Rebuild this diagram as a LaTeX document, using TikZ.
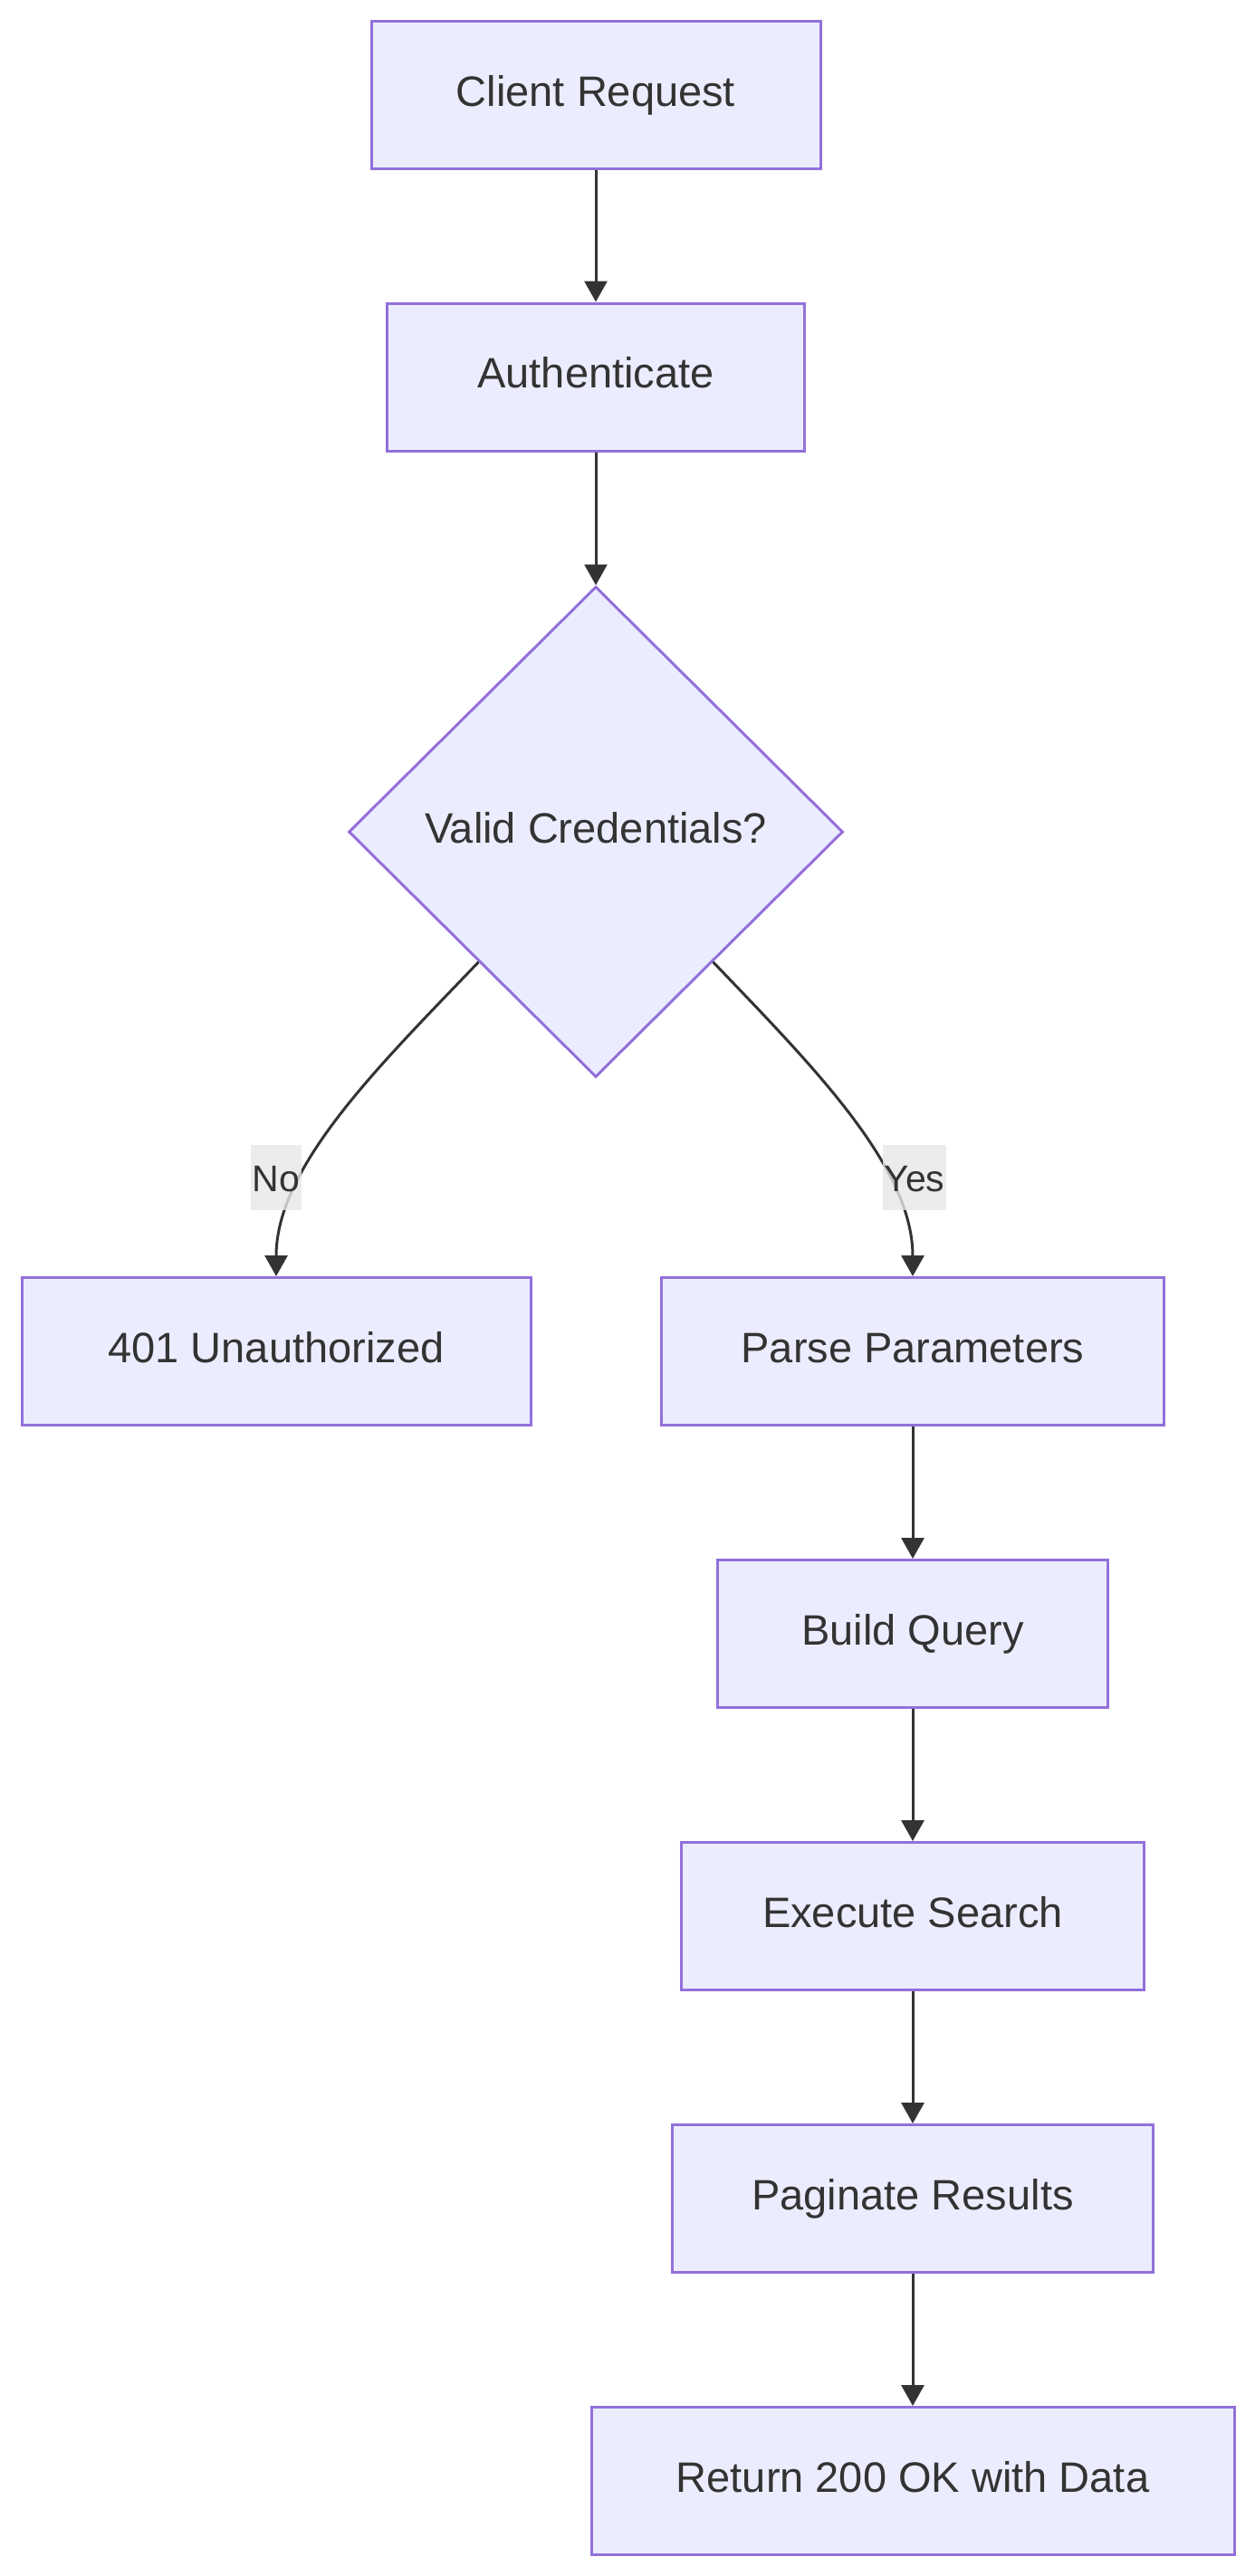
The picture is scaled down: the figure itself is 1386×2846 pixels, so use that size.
\documentclass[tikz,border=0pt]{standalone}
\usepackage{fontspec}
\setmainfont{Liberation Sans}
\usetikzlibrary{shapes.geometric,arrows.meta}
\definecolor{nodefill}{HTML}{ECECFF}
\definecolor{nodeborder}{HTML}{9370DB}
\definecolor{edgecol}{HTML}{333333}
\definecolor{txtcol}{HTML}{333333}
\definecolor{lblfill}{HTML}{E8E8E8}
\begin{document}
\begin{tikzpicture}[x=1pt,y=-1pt,
  box/.style={draw=nodeborder, fill=nodefill, line width=3pt, minimum height=163pt,
    text=txtcol, font=\fontsize{47}{56}\selectfont, text height=34pt, text depth=10pt, inner sep=0pt},
  decision/.style={diamond, draw=nodeborder, fill=nodefill, line width=3pt,
    minimum width=546pt, minimum height=542pt, inner sep=0pt, text=txtcol,
    font=\fontsize{47}{56}\selectfont, text height=34pt, text depth=10pt},
  edge/.style={draw=edgecol, line width=3pt, -{Triangle[width=25pt,length=23pt]}},
  lbl/.style={fill=lblfill, fill opacity=0.8, text opacity=1, text=txtcol,
    font=\fontsize{41}{50}\selectfont, inner xsep=1.5pt, inner ysep=0pt,
    minimum height=72pt, text height=30pt, text depth=0pt}]
\fill[white] (0,0) rectangle (1386,2846);
\useasboundingbox (0,0) rectangle (1386,2846);

\node[box, minimum width=496pt] (client) at (658,105) {Client Request};
\node[box, minimum width=461pt] (auth) at (658,416.5) {Authenticate};
\node[decision] (dec) at (658,919) {Valid Credentials?};
\node[box, minimum width=562pt] (unauth) at (305,1493) {401 Unauthorized};
\node[box, minimum width=555pt] (parse) at (1008,1493) {Parse Parameters};
\node[box, minimum width=431pt] (build) at (1008,1805) {Build Query};
\node[box, minimum width=511pt] (exec) at (1008,2117) {Execute Search};
\node[box, minimum width=531pt] (pag) at (1008,2429) {Paginate Results};
\node[box, minimum width=710pt] (ret) at (1008,2741) {Return 200 OK with Data};

\draw[edge] (client.south) -- (auth.north);
\draw[edge] (auth.south) -- (dec.north);
\draw[edge] (dec.228) .. controls +(-108,113) and +(0,-122) .. (unauth.north);
\draw[edge] (dec.312) .. controls +(108,113) and +(0,-122) .. (parse.north);
\draw[edge] (parse.south) -- (build.north);
\draw[edge] (build.south) -- (exec.north);
\draw[edge] (exec.south) -- (pag.north);
\draw[edge] (pag.south) -- (ret.north);

\node[lbl] (lno) at (305,1301) {No};
\node[lbl] (lyes) at (1010,1301) {Yes};
\end{tikzpicture}
\end{document}
